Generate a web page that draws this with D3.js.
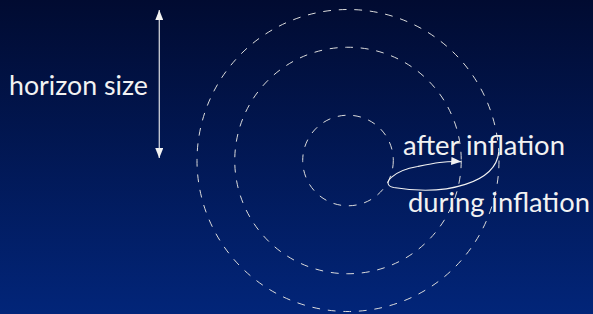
<!DOCTYPE html>
<html>
<head>
<meta charset="utf-8">
<script src="https://cdn.jsdelivr.net/npm/d3@7"></script>
<style>
  html, body { margin: 0; padding: 0; background: #000b30; }
  text { font-family: Lato, "DejaVu Sans", sans-serif; fill: #f2f2f2; }
</style>
</head>
<body>
<div id="vis"></div>
<script>

var width = 593;
var height = 314;

// horizon radii, in arbitrary units (inner = after, middle, outer)
var radii = [1.5, 3.75, 5];

// the inflation loop: outer circle -> inner circle -> middle circle
var loopStart = { r: 5, angle: 3.2 };
var loopTip = { r: 1.5, angle: -29 };
var loopEnd = { r: 3.75, angle: -0.6 };

var labels = ['horizon size', 'after inflation', 'during inflation'];

// vertical "horizon size" arrow, in the same units
var sizeArrow = { x: -6.25, y0: 4.98, y1: 0.08 };

var unit = 30.2;
var center = { x: 348, y: 160.5 };

var x = d3.scaleLinear().domain([0, 1]).range([center.x, center.x + unit]);
var y = d3.scaleLinear().domain([0, 1]).range([center.y, center.y - unit]);
var r = d3.scaleLinear().domain([0, 1]).range([0, unit]);

function polar(p) {
  var a = p.angle * Math.PI / 180;
  return [x(p.r * Math.cos(a)), y(p.r * Math.sin(a))];
}

var svg = d3.select('#vis')
  .append('svg')
  .attr('width', width)
  .attr('height', height);

var defs = svg.append('defs');

var grad = defs.append('linearGradient')
  .attr('id', 'bg')
  .attr('x1', 0).attr('y1', 0)
  .attr('x2', 0).attr('y2', 1);
grad.append('stop').attr('offset', '0%').attr('stop-color', '#010b31');
grad.append('stop').attr('offset', '100%').attr('stop-color', '#022579');

defs.append('marker')
  .attr('id', 'head')
  .attr('viewBox', '0 0 10 8')
  .attr('refX', 10)
  .attr('refY', 4)
  .attr('markerWidth', 10)
  .attr('markerHeight', 8)
  .attr('markerUnits', 'userSpaceOnUse')
  .attr('orient', 'auto-start-reverse')
  .append('path')
  .attr('d', 'M0,0 L10,4 L0,8 Z')
  .attr('fill', '#f2f2f2');

svg.append('rect')
  .attr('width', width)
  .attr('height', height)
  .attr('fill', 'url(#bg)');

svg.selectAll('.horizon')
  .data(radii)
  .enter().append('circle')
  .classed('horizon', true)
  .attr('cx', x(0))
  .attr('cy', y(0))
  .attr('r', function(d) { return r(d); })
  .attr('fill', 'none')
  .attr('stroke', '#dcdcdc')
  .attr('stroke-width', 1)
  .attr('stroke-dasharray', '7.8 7.8');

// loop drawn as cubic pieces through the tip on the inner circle
var p0 = polar(loopStart);
var p1 = polar(loopTip);
var p2 = polar(loopEnd);

var loop = d3.path();
loop.moveTo(p0[0], p0[1]);
loop.bezierCurveTo(p0[0] - 3, p0[1] + 30, p1[0] + 60, p1[1] + 14, p1[0] + 6, p1[1] + 5);
loop.bezierCurveTo(p1[0] - 8, p1[1] + 2, p1[0] + 6, p1[1] - 12, p1[0] + 30, p1[1] - 16);
loop.bezierCurveTo(p1[0] + 45, p1[1] - 19, p2[0] - 15, p2[1] - 1, p2[0], p2[1]);

svg.append('path')
  .attr('d', loop.toString())
  .attr('fill', 'none')
  .attr('stroke', '#f2f2f2')
  .attr('stroke-width', 1.1)
  .attr('marker-end', 'url(#head)');

svg.append('line')
  .attr('x1', x(sizeArrow.x))
  .attr('x2', x(sizeArrow.x))
  .attr('y1', y(sizeArrow.y0))
  .attr('y2', y(sizeArrow.y1))
  .attr('stroke', '#f2f2f2')
  .attr('stroke-width', 1.1)
  .attr('marker-start', 'url(#head)')
  .attr('marker-end', 'url(#head)');

var textPos = [
  { x: 9, y: 95, w: 139 },
  { x: 403, y: 154.5, w: 162 },
  { x: 408, y: 211.5, w: 182 }
];

svg.selectAll('.label')
  .data(labels)
  .enter().append('text')
  .classed('label', true)
  .attr('x', function(d, i) { return textPos[i].x; })
  .attr('y', function(d, i) { return textPos[i].y; })
  .style('font-size', '26px')
  .text(function(d) { return d; })
  .each(function(d, i) {
    // fit the label to the width it takes in the original
    var len = this.getComputedTextLength();
    d3.select(this).style('font-size', (26 * textPos[i].w / len) + 'px');
  });

</script>
</body>
</html>
